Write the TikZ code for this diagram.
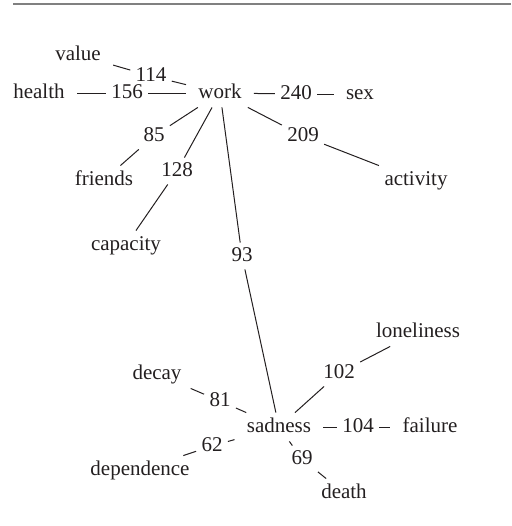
\documentclass[tikz,border=0pt]{standalone}
\usepackage{fontspec}
\setmainfont{Liberation Serif}
\definecolor{ink}{HTML}{231F20}
\begin{document}
\begin{tikzpicture}[x=0.5pt,y=-0.5pt,
  word/.style={inner xsep=6pt,inner ysep=3pt,text height=1.5ex,text depth=0.25ex,font=\fontsize{10.5}{12}\selectfont,text=ink},
  num/.style={inner xsep=2.5pt,inner ysep=2.5pt,text height=1.5ex,text depth=0.25ex,font=\fontsize{10.5}{12}\selectfont,text=ink},
  link/.style={draw=ink,line width=0.5pt}]
\useasboundingbox (0,0) rectangle (511,526);
\draw[black!50,line width=1pt] (13,4) coordinate (ruleL) -- (511,4) coordinate (ruleR);
% words
\node[word] (work) at (220,93) {work};
\node[word] (value) at (78,55) {value};
\node[word] (health) at (39,93) {health};
\node[word] (sex) at (360,94) {sex};
\node[word] (friends) at (104,180) {friends};
\node[word] (capacity) at (126,245) {capacity};
\node[word] (activity) at (416,180) {activity};
\node[word] (sadness) at (279,427) {sadness};
\node[word] (decay) at (157,374) {decay};
\node[word] (dependence) at (140,470) {dependence};
\node[word] (loneliness) at (418,332) {loneliness};
\node[word] (failure) at (430,427) {failure};
\node[word] (death) at (344,493) {death};
% numbers
\node[num] (n114) at (151,76) {114};
\node[num] (n156) at (127,93) {156};
\node[num] (n240) at (296,94) {240};
\node[num] (n85) at (154,136) {85};
\node[num] (n128) at (177,171) {128};
\node[num] (n209) at (303,136) {209};
\node[num] (n93) at (242,256) {93};
\node[num] (n81) at (220,401) {81};
\node[num] (n62) at (212,446) {62};
\node[num] (n69) at (302,459) {69};
\node[num] (n102) at (339,373) {102};
\node[num] (n104) at (358,427) {104};
% connectors
\draw[link] (value) -- (n114);
\draw[link] (n114) -- (work);
\draw[link] (health) -- (n156);
\draw[link] (n156) -- (work);
\draw[link] (work) -- (n240);
\draw[link] (n240) -- (sex);
\draw[link] (work) -- (n85);
\draw[link] (n85) -- (friends);
\draw[link] (work) -- (n128);
\draw[link] (n128) -- (capacity);
\draw[link] (work) -- (n209);
\draw[link] (n209) -- (activity);
\draw[link] (work) -- (n93);
\draw[link] (n93) -- (sadness);
\draw[link] (decay) -- (n81);
\draw[link] (n81) -- (sadness);
\draw[link] (sadness) -- (n62);
\draw[link] (n62) -- (dependence);
\draw[link] (sadness) -- (n69);
\draw[link] (n69) -- (death);
\draw[link] (sadness) -- (n102);
\draw[link] (n102) -- (loneliness);
\draw[link] (sadness) -- (n104);
\draw[link] (n104) -- (failure);
\end{tikzpicture}
\end{document}
